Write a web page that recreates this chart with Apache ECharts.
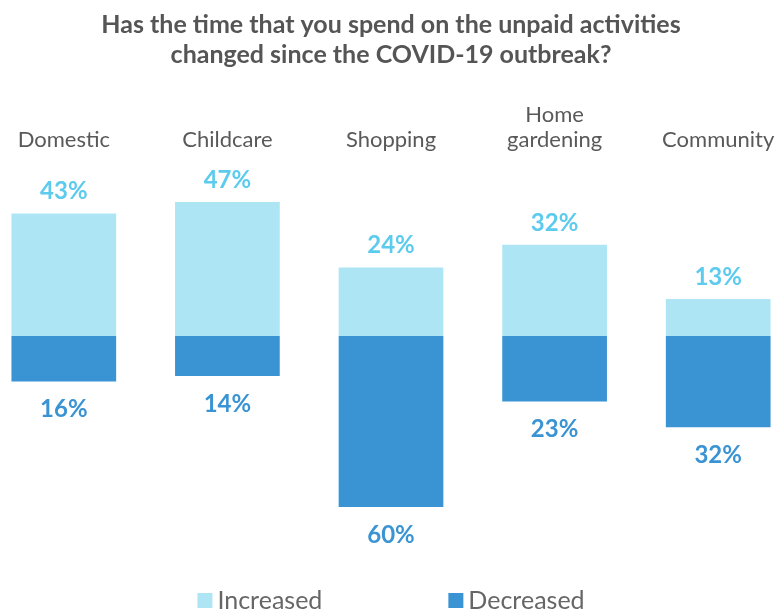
<!DOCTYPE html>
<html>
<head>
<meta charset="utf-8">
<script src="https://cdn.jsdelivr.net/npm/echarts@6/dist/echarts.min.js"></script>
<style>
  html, body { margin: 0; padding: 0; background: #fff; overflow: hidden; }
  /* the plot runs a little past both edges of the picture */
  #chart { width: 818px; height: 609px; margin-left: -18px; }
</style>
</head>
<body>
<div id="chart"></div>
<script>
// data
const categories = ["Domestic", "Childcare", "Shopping", "Home\ngardening", "Community"];
const increased = [43, 47, 24, 32, 13];
const decreased = [16, 14, 60, 23, 32];

const lightBlue = "#ade5f5";
const darkBlue = "#3a94d3";

const chart = echarts.init(document.getElementById("chart"));

const option = {
  animation: false,
  title: {
    text: "Has the time that you spend on the unpaid activities\nchanged since the COVID-19 outbreak?",
    left: "center",
    top: 5,
    textStyle: {
      fontFamily: "Lato",
      fontWeight: "bold",
      fontSize: 25,
      lineHeight: 30,
      color: "#555555",
    },
  },
  legend: {
    data: ["Increased", "Decreased"],
    top: 583,
    left: "center",
    itemWidth: 15,
    itemHeight: 15,
    itemGap: 126,
    icon: "rect",
    textStyle: {
      fontFamily: "Lato",
      fontSize: 25,
      color: "#666666",
    },
  },
  grid: {
    left: 0,
    right: 0,
    top: 165,
    bottom: 73.5,
    containLabel: false,
  },
  xAxis: {
    type: "category",
    position: "top",
    data: categories,
    axisLine: { show: false },
    axisTick: { show: false },
    axisLabel: {
      margin: 13,
      fontFamily: "Lato",
      fontSize: 22,
      lineHeight: 25,
      color: "#595959",
    },
  },
  yAxis: {
    type: "value",
    min: -70,
    max: 60,
    show: false,
    splitLine: { show: false },
  },
  series: [
    {
      name: "Increased",
      type: "bar",
      stack: "change",
      barCategoryGap: "36%",
      data: increased,
      itemStyle: { color: lightBlue },
      label: {
        show: true,
        position: "top",
        distance: 10,
        formatter: (p) => p.value + "%",
        fontFamily: "Lato",
        fontWeight: "bold",
        fontSize: 24,
        color: "#5ccbee",
      },
    },
    {
      name: "Decreased",
      type: "bar",
      stack: "change",
      barCategoryGap: "36%",
      data: decreased.map((v) => -v),
      itemStyle: { color: darkBlue },
      label: {
        show: true,
        position: "bottom",
        distance: 16,
        formatter: (p) => Math.abs(p.value) + "%",
        fontFamily: "Lato",
        fontWeight: "bold",
        fontSize: 24,
        color: darkBlue,
      },
    },
  ],
};

chart.setOption(option);
</script>
</body>
</html>
